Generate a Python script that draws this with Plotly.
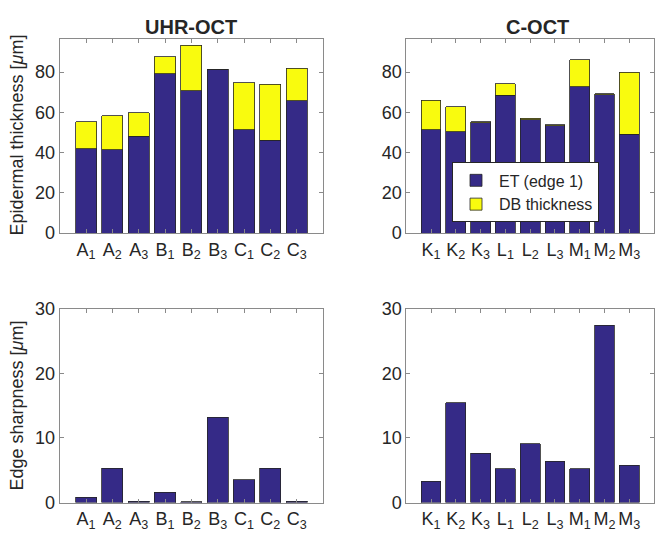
import plotly.graph_objects as go

W, H = 663, 539

uhr_labels = ["A<sub>1</sub>", "A<sub>2</sub>", "A<sub>3</sub>", "B<sub>1</sub>", "B<sub>2</sub>",
              "B<sub>3</sub>", "C<sub>1</sub>", "C<sub>2</sub>", "C<sub>3</sub>"]
coct_labels = ["K<sub>1</sub>", "K<sub>2</sub>", "K<sub>3</sub>", "L<sub>1</sub>", "L<sub>2</sub>",
               "L<sub>3</sub>", "M<sub>1</sub>", "M<sub>2</sub>", "M<sub>3</sub>"]

uhr_et = [42.0, 41.5, 48.1, 79.2, 70.7, 81.4, 51.3, 46.1, 65.8]
uhr_db = [13.4, 16.9, 11.8, 8.5, 22.7, 0.0, 23.3, 27.8, 16.1]
coct_et = [51.4, 50.3, 54.8, 68.5, 56.2, 53.3, 72.8, 68.7, 49.2]
coct_db = [14.7, 12.5, 0.5, 5.8, 0.8, 0.4, 13.4, 0.6, 30.6]

uhr_sharp = [0.84, 5.3, 0.2, 1.6, 0.1, 13.2, 3.5, 5.3, 0.2]
coct_sharp = [3.3, 15.4, 7.6, 5.2, 9.1, 6.4, 5.2, 27.4, 5.75]

BLUE = "#352a87"
YELLOW = "#f9fb0e"
EDGE = "#262626"
TXT = "#262626"
FONT = "Liberation Sans, Arial, sans-serif"


def px_x(a, b):
    return [a / W, b / W]


def px_y(top, bottom):
    return [1 - bottom / H, 1 - top / H]


fig = go.Figure()
idx = list(range(9))

bar_style = dict(width=0.8, marker_line_color=EDGE, marker_line_width=0.8)

fig.add_trace(go.Bar(x=idx, y=uhr_et, marker_color=BLUE, name="ET (edge 1)",
                     xaxis="x", yaxis="y", **bar_style))
fig.add_trace(go.Bar(x=idx, y=uhr_db, marker_color=YELLOW, name="DB thickness",
                     xaxis="x", yaxis="y", **bar_style))
fig.add_trace(go.Bar(x=idx, y=coct_et, marker_color=BLUE, name="ET (edge 1)",
                     xaxis="x2", yaxis="y2", showlegend=False, **bar_style))
fig.add_trace(go.Bar(x=idx, y=coct_db, marker_color=YELLOW, name="DB thickness",
                     xaxis="x2", yaxis="y2", showlegend=False, **bar_style))
fig.add_trace(go.Bar(x=idx, y=uhr_sharp, marker_color=BLUE, showlegend=False,
                     xaxis="x3", yaxis="y3", **bar_style))
fig.add_trace(go.Bar(x=idx, y=coct_sharp, marker_color=BLUE, showlegend=False,
                     xaxis="x4", yaxis="y4", **bar_style))

axis_common = dict(
    showline=True, linecolor="#8a8a8a", linewidth=1, mirror="ticks",
    ticks="inside", ticklen=4, tickcolor="#8a8a8a", showgrid=False,
    zeroline=False, tickfont=dict(size=18, color=TXT, family=FONT),
)


def xaxis(dom, anchor, labels):
    return dict(axis_common, domain=dom, anchor=anchor, range=[-1, 9],
                tickmode="array", tickvals=idx, ticktext=labels)


def yaxis(dom, anchor, rng, ticks):
    return dict(axis_common, domain=dom, anchor=anchor, range=rng,
                tickmode="array", tickvals=ticks, ticktext=[str(t) for t in ticks])


left = px_x(51.7, 315)
right = px_x(398.3, 646)
top = px_y(21.7, 223.3)
bottom = px_y(301.7, 503.3)

fig.update_layout(
    width=W, height=H,
    margin=dict(l=0, r=0, t=0, b=0),
    paper_bgcolor="white", plot_bgcolor="white",
    barmode="stack", bargap=0.2,
    font=dict(family=FONT, color=TXT),
    xaxis=xaxis(left, "y", uhr_labels),
    yaxis=yaxis(top, "x", [0, 96.5], [0, 20, 40, 60, 80]),
    xaxis2=xaxis(right, "y2", coct_labels),
    yaxis2=yaxis(top, "x2", [0, 96.5], [0, 20, 40, 60, 80]),
    xaxis3=xaxis(left, "y3", uhr_labels),
    yaxis3=yaxis(bottom, "x3", [0, 30], [0, 10, 20, 30]),
    xaxis4=xaxis(right, "y4", coct_labels),
    yaxis4=yaxis(bottom, "x4", [0, 30], [0, 10, 20, 30]),
    legend=dict(
        x=444 / W, y=1 - 150 / H, xanchor="left", yanchor="top",
        traceorder="normal", bgcolor="white", bordercolor=EDGE, borderwidth=1,
        font=dict(size=16, color=TXT, family=FONT),
        itemwidth=36, tracegroupgap=0,
    ),
    showlegend=True,
)

annotations = [
    dict(text="<b>UHR-OCT</b>", x=183.3 / W, y=1 - 9 / H, font=dict(size=20)),
    dict(text="<b>C-OCT</b>", x=529 / W, y=1 - 9 / H, font=dict(size=20)),
    dict(text="Epidermal thickness [<i>μ</i>m]", x=9 / W, y=1 - 122 / H,
         textangle=-90, font=dict(size=18)),
    dict(text="Edge sharpness [<i>μ</i>m]", x=9 / W, y=1 - 402.5 / H,
         textangle=-90, font=dict(size=18)),
]
for a in annotations:
    a.update(xref="paper", yref="paper", showarrow=False,
             xanchor="center", yanchor="middle")
    a["font"].update(family=FONT, color=TXT)
fig.update_layout(annotations=annotations)

fig.write_html("out.html")
